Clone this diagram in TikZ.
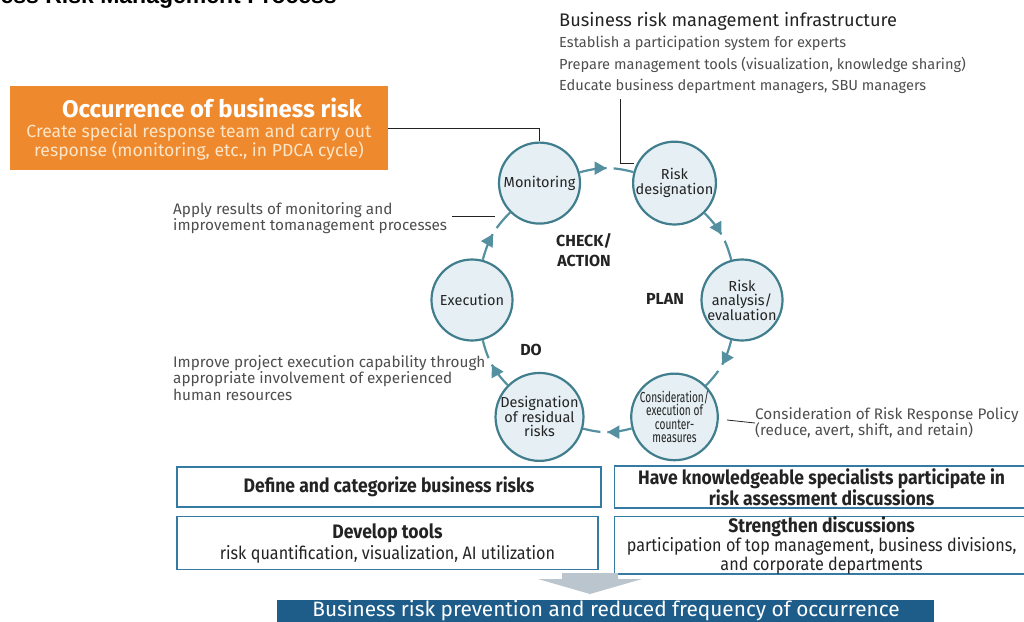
\documentclass[tikz,border=0pt]{standalone}
\usepackage{fontspec}
\setmainfont{Fira Sans}
\newfontfamily\narrowfont[FakeStretch=0.90]{Fira Sans}
\newfontfamily\tightfont[FakeStretch=0.70]{Fira Sans}
\newfontfamily\headfont{Liberation Sans}
\usetikzlibrary{arrows.meta,decorations.markings,positioning}

\definecolor{riskorange}{RGB}{238,137,46}
\definecolor{riskcream}{RGB}{253,229,200}
\definecolor{stageline}{RGB}{64,126,142}
\definecolor{stagefill}{RGB}{229,239,244}
\definecolor{cyclearrow}{RGB}{84,144,160}
\definecolor{boxline}{RGB}{52,122,162}
\definecolor{bannerblue}{RGB}{30,92,138}
\definecolor{inkdark}{RGB}{35,35,35}
\definecolor{inkgray}{RGB}{78,78,78}
\definecolor{chevrongray}{RGB}{186,197,206}

\begin{document}
\begin{tikzpicture}[x=1pt,y=-1pt,
  stage/.style={draw=stageline,line width=2.2pt,circle,fill=stagefill,minimum size=81pt,
    inner sep=0pt,align=center,text=inkdark,font=\fontsize{14.5}{14.5}\selectfont},
  cyc/.style={cyclearrow,line width=2.2pt,postaction={decorate},
    decoration={markings,mark=at position 0.5 with {\fill[white] (0pt,-3pt) rectangle (7pt,3pt);
      \arrow{Triangle[length=12pt,width=13pt]}}}},
  lead/.style={draw=inkdark,line width=0.8pt},
  note/.style={align=left,text=inkgray,inner sep=0pt,font=\fontsize{15.3}{16.5}\selectfont},
  phase/.style={text=inkdark,align=center,font=\bfseries\fontsize{16}{20}\selectfont},
  plan/.style={draw=boxline,line width=1.6pt,align=center,text=inkdark,inner sep=0pt,
    font=\narrowfont\fontsize{19.5}{19}\selectfont}
]
\useasboundingbox (0,0) rectangle (1024,621);

% heading, cut off at the top
\node[anchor=base east,inner sep=0pt,font=\headfont\bfseries\fontsize{23}{23}\selectfont] (heading) at (337,4) {Business Risk Management Process};

% occurrence box
\node[fill=riskorange,minimum width=378pt,minimum height=84pt,inner sep=0pt] (occ) at (199,128) {};
\node[text=white,font=\bfseries\fontsize{24}{24}\selectfont] (occtitle) at (212,108) {Occurrence of business risk};
\node[text=riskcream,align=center,font=\fontsize{17.6}{19}\selectfont] (occtext) at (199,142) {Create special response team and carry out\\response (monitoring, etc., in PDCA cycle)};

% infrastructure
\node[note,anchor=north west,font=\fontsize{14.6}{21.5}\selectfont] (infra) at (559,12)
  {{\color{inkdark}\fontsize{18.2}{21.5}\selectfont Business risk management infrastructure}\\
   Establish a participation system for experts\\
   Prepare management tools (visualization, knowledge sharing)\\
   Educate business department managers, SBU managers};

% PDCA cycle
\begin{scope}[shift={(607,300)}]
  \node[stage] (mon) at (-120:135) {Monitoring};
  \node[stage] (desig) at (-60:135) {Risk\\designation};
  \node[stage] (anal) at (0:135) {Risk\\analysis/\\evaluation};
  \node[stage,font=\tightfont\fontsize{14.5}{13.5}\selectfont] (counter) at (60:135) {Consideration/\\execution of\\counter-\\measures};
  \node[stage] (resid) at (120:135) {Designation\\of residual\\risks};
  \node[stage] (exec) at (180:135) {Execution};
\end{scope}

\draw[cyc] (mon) to[bend left=15] (desig);
\draw[cyc] (desig) to[bend left=15] (anal);
\draw[cyc] (anal) to[bend left=15] (counter);
\draw[cyc] (counter) to[bend left=15] (resid);
\draw[cyc] (resid) to[bend left=15] (exec);
\draw[cyc] (exec) to[bend left=15] (mon);

\node[phase] (check) at (584,250) {CHECK/\\ACTION};
\node[phase] (planlbl) at (665,299) {PLAN};
\node[phase] (dolbl) at (531,350) {DO};

% side notes
\node[note,anchor=west] (apply) at (173,218) {Apply results of monitoring and\\improvement tomanagement processes};
\node[note,anchor=west] (improve) at (173,378) {Improve project execution capability through\\appropriate involvement of experienced\\human resources};
\node[note,anchor=west] (policy) at (755,423) {Consideration of Risk Response Policy\\(reduce, avert, shift, and retain)};

\coordinate (infratap) at (620,163);
\coordinate (applytap) at (495,216);
\coordinate (policytap) at (727,420);

\draw[lead] (occ.east) -| (mon.north);
\draw[lead] (infra.south -| infratap) ++(0,5) -- (infratap);
\draw[lead] (infratap) -- ++(14,0);
\draw[lead] (apply.east) ++(5,-2) -- (applytap);
\draw[lead] (policytap) -- (policy.west);

% measures
\node[plan,minimum width=424pt,minimum height=40pt] (define) at (389,487) {\bfseries Define and categorize business risks};
\node[plan,minimum width=414pt,minimum height=42pt,right=12pt of define] (experts) {\bfseries Have knowledgeable specialists participate in\\\bfseries risk assessment discussions};
\node[plan,minimum width=421pt,minimum height=53pt,below=8pt of define.south west,anchor=north west] (tools) {{\bfseries Develop tools}\\[2pt]\fontsize{18}{19}\selectfont risk quantification, visualization, AI utilization};
\node[plan,minimum width=414pt,minimum height=53pt,below=7pt of experts] (discuss) {{\bfseries Strengthen discussions}\\\fontsize{18}{16.5}\selectfont participation of top management, business divisions,\\\fontsize{18}{16.5}\selectfont and corporate departments};

% outcome
\fill[chevrongray] (562,573) -- (618,573) -- (618,579) -- (642,579) -- (590,594) -- (538,579) -- (562,579) -- cycle;
\node[fill=bannerblue,minimum width=657pt,minimum height=28pt,inner sep=0pt] (outcome) at (605.5,614) {};
\node[text=white,inner sep=0pt,font=\fontsize{20.8}{21}\selectfont] (outcometext) at (606,611) {Business risk prevention and reduced frequency of occurrence};

\end{tikzpicture}
\end{document}
